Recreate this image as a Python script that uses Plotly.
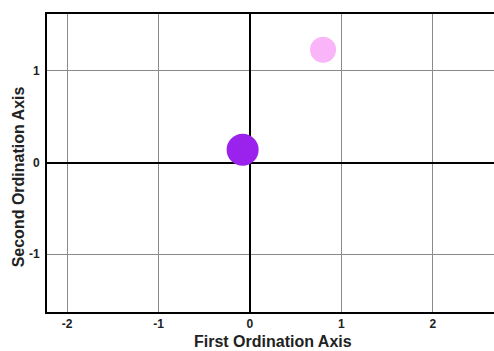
import plotly.graph_objects as go

# ordination scores for the two samples
sample_x = [0.80, -0.08]
sample_y = [1.23, 0.14]
sample_colors = ["#F9B5F7", "#9A22EC"]
sample_sizes = [26, 32]

x_ticks = [-2, -1, 0, 1, 2]
y_ticks = [-1, 0, 1]

fig = go.Figure()
fig.add_trace(go.Scatter(
    x=sample_x, y=sample_y, mode="markers",
    marker=dict(color=sample_colors, size=sample_sizes, opacity=1, line=dict(width=0)),
    showlegend=False, hoverinfo="skip",
))

axis_font = dict(family="Liberation Sans, Arial, sans-serif", size=12, color="#222")
title_font = dict(family="Liberation Sans, Arial, sans-serif", size=16, color="#222")

fig.update_layout(
    width=494, height=351,
    margin=dict(l=47, r=0, t=14, b=39),
    plot_bgcolor="white", paper_bgcolor="white",
    xaxis=dict(
        range=[-2.22, 2.67], tickvals=x_ticks, ticktext=[f"<b>{v}</b>" for v in x_ticks],
        tickfont=axis_font, showgrid=True, gridcolor="#8a8a8a", gridwidth=1,
        zeroline=True, zerolinecolor="black", zerolinewidth=2,
        showline=True, linecolor="black", linewidth=2, mirror=True,
        ticks="", ticklabelstandoff=0,
    ),
    yaxis=dict(
        range=[-1.63, 1.62], tickvals=y_ticks, ticktext=[f"<b>{v}</b>" for v in y_ticks],
        tickfont=axis_font, showgrid=True, gridcolor="#8a8a8a", gridwidth=1,
        zeroline=True, zerolinecolor="black", zerolinewidth=2,
        showline=True, linecolor="black", linewidth=2, mirror=False,
        ticks="", ticklabelstandoff=3,
    ),
    annotations=[
        dict(text="<b>First Ordination Axis</b>", xref="paper", yref="paper",
             x=0.506, y=-0.1309, xanchor="center", yanchor="bottom", borderpad=0,
             showarrow=False, font=title_font),
        dict(text="<b>Second Ordination Axis</b>", xref="paper", yref="paper",
             x=-0.065, y=0.455, xanchor="center", yanchor="middle", textangle=-90,
             borderpad=0, showarrow=False, font=title_font),
    ],
)

fig.write_html("out.html")
